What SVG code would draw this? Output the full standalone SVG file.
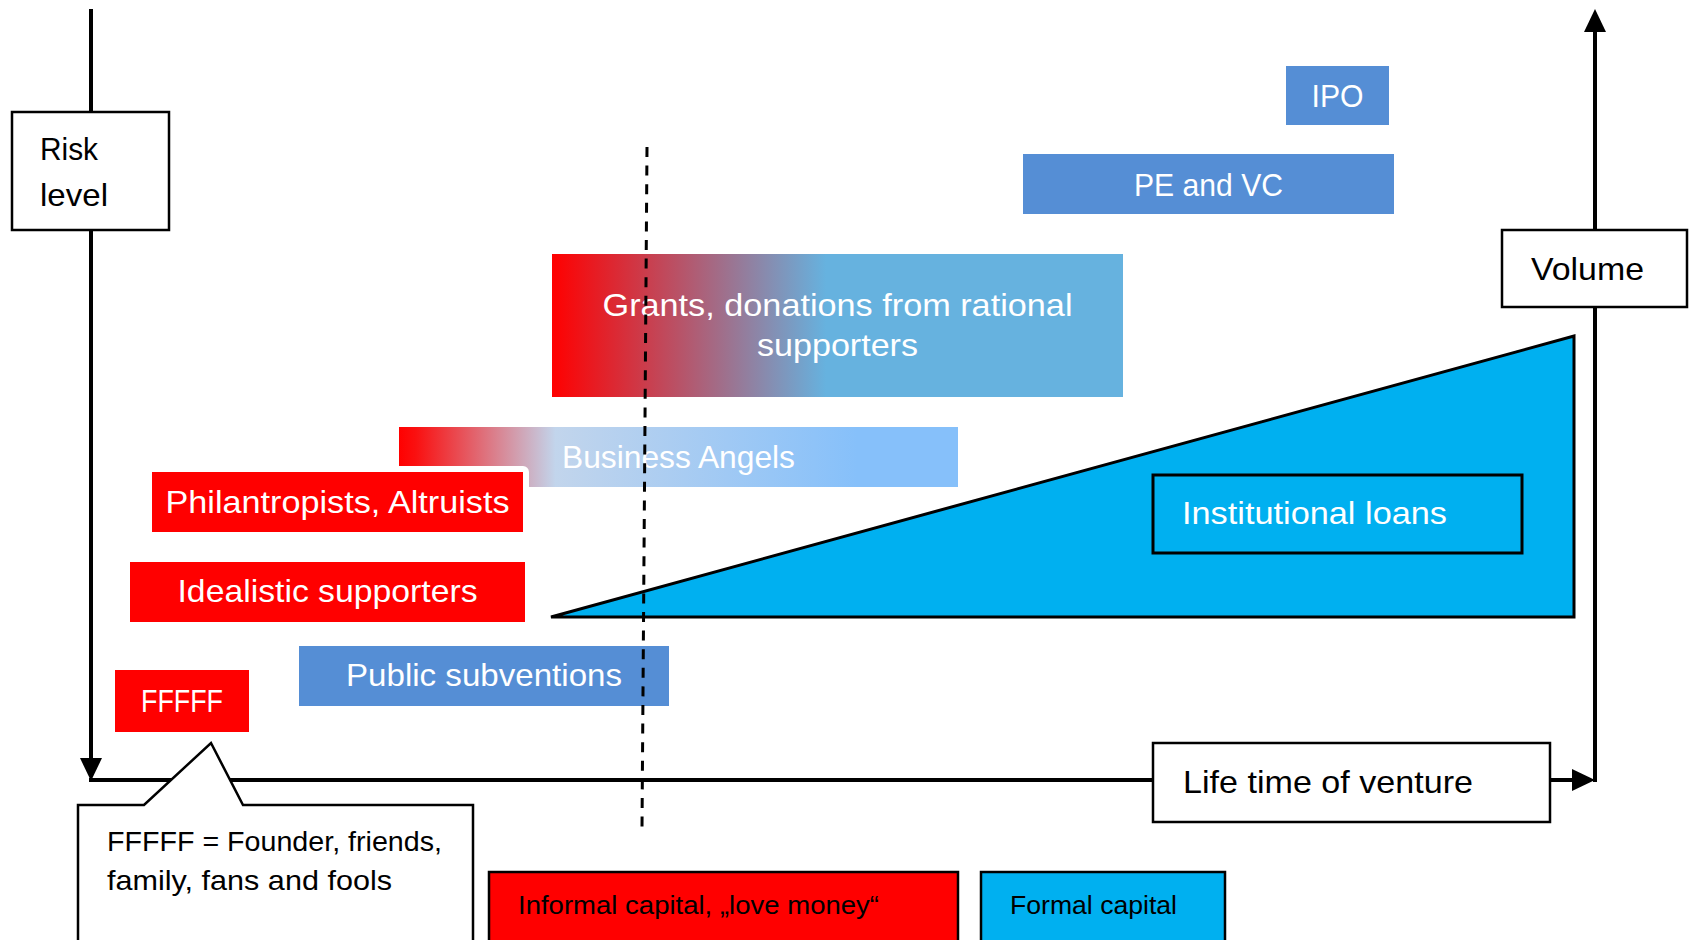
<svg xmlns="http://www.w3.org/2000/svg" width="1690" height="940" viewBox="0 0 1690 940">
  <style>
    .lbl { font-family: "Liberation Sans", Arial, sans-serif; font-size: 32px; fill: #ffffff; }
    .mid { text-anchor: middle; }
    .dark { fill: #000000; }
    .axis { stroke: #000; stroke-width: 4; fill: none; }
    .box { fill: #ffffff; stroke: #000; stroke-width: 2.5; }
    .red { fill: #FF0000; }
    .blue { fill: #558ED5; }
    .cyan { fill: #00B0F0; }
  </style>
  <defs>
    <marker id="arrow" markerUnits="userSpaceOnUse" markerWidth="23" markerHeight="22" refX="0" refY="11" orient="auto" viewBox="0 0 23 22">
      <path d="M0,0 L23,11 L0,22 Z" fill="#000"/>
    </marker>
    <linearGradient id="gGrants" x1="0" y1="0" x2="1" y2="0">
      <stop offset="0" stop-color="#FF0000"/>
      <stop offset="0.48" stop-color="#66B2DF"/>
      <stop offset="1" stop-color="#66B2DF"/>
    </linearGradient>
    <linearGradient id="gAngels" x1="0" y1="0" x2="1" y2="0">
      <stop offset="0" stop-color="#FF0000"/>
      <stop offset="0.03" stop-color="#FA1010"/>
      <stop offset="0.28" stop-color="#C2D5EC"/>
      <stop offset="0.82" stop-color="#86C0FA"/>
      <stop offset="1" stop-color="#86C0FA"/>
    </linearGradient>
  </defs>

  <g id="connectors">
    <line class="axis" x1="91" y1="9" x2="91" y2="758" marker-end="url(#arrow)"/>
    <line class="axis" x1="89" y1="780" x2="1572" y2="780" stroke-width="5" marker-end="url(#arrow)"/>
    <line class="axis" x1="1595" y1="782" x2="1595" y2="32" marker-end="url(#arrow)"/>
  </g>

  <g id="risk-level">
    <rect class="box" x="12" y="112" width="157" height="118"/>
    <text class="lbl dark" x="40" y="160" textLength="58" lengthAdjust="spacingAndGlyphs">Risk</text>
    <text class="lbl dark" x="40" y="206" textLength="68" lengthAdjust="spacingAndGlyphs">level</text>
  </g>

  <g id="volume">
    <rect class="box" x="1502" y="230" width="185" height="77"/>
    <text class="lbl dark" x="1531" y="280" textLength="113" lengthAdjust="spacingAndGlyphs">Volume</text>
  </g>

  <g id="ipo">
    <rect class="blue" x="1286" y="66" width="103" height="59"/>
    <text class="lbl mid" x="1337.5" y="107" textLength="52" lengthAdjust="spacingAndGlyphs">IPO</text>
  </g>

  <g id="pe-vc">
    <rect class="blue" x="1023" y="154" width="371" height="60"/>
    <text class="lbl mid" x="1208.5" y="196" textLength="149" lengthAdjust="spacingAndGlyphs">PE and VC</text>
  </g>

  <g id="grants">
    <rect x="552" y="254" width="571" height="143" fill="url(#gGrants)"/>
    <text class="lbl mid" x="837.5" y="316" textLength="470" lengthAdjust="spacingAndGlyphs">Grants, donations from rational</text>
    <text class="lbl mid" x="837.5" y="356" textLength="161" lengthAdjust="spacingAndGlyphs">supporters</text>
  </g>

  <g id="business-angels">
    <rect x="399" y="427" width="559" height="60" fill="url(#gAngels)"/>
    <text class="lbl mid" x="678.5" y="468" textLength="233" lengthAdjust="spacingAndGlyphs">Business Angels</text>
  </g>

  <g id="philantropists">
    <rect class="red" x="152" y="472" width="371" height="60" stroke="#ffffff" stroke-width="12" stroke-linejoin="round" paint-order="stroke"/>
    <text class="lbl mid" x="337.5" y="513" textLength="344" lengthAdjust="spacingAndGlyphs">Philantropists, Altruists</text>
  </g>

  <g id="idealistic">
    <rect class="red" x="130" y="562" width="395" height="60"/>
    <text class="lbl mid" x="327.5" y="602" textLength="300" lengthAdjust="spacingAndGlyphs">Idealistic supporters</text>
  </g>

  <g id="public-subventions">
    <rect class="blue" x="299" y="646" width="370" height="60"/>
    <text class="lbl mid" x="484" y="686" textLength="276" lengthAdjust="spacingAndGlyphs">Public subventions</text>
  </g>

  <g id="fffff">
    <rect class="red" x="115" y="670" width="134" height="62"/>
    <text class="lbl mid" x="182" y="712" textLength="82" lengthAdjust="spacingAndGlyphs">FFFFF</text>
  </g>

  <g id="institutional-loans">
    <polygon class="cyan" points="551,617 1574,336 1574,617" stroke="#000" stroke-width="3" stroke-linejoin="miter"/>
    <rect x="1153" y="475" width="369" height="78" fill="none" stroke="#000" stroke-width="3"/>
    <text class="lbl" x="1182" y="524" textLength="265" lengthAdjust="spacingAndGlyphs">Institutional loans</text>
  </g>

  <g id="life-time">
    <rect class="box" x="1153" y="743" width="397" height="79" stroke-width="3"/>
    <text class="lbl dark" x="1183" y="793" textLength="290" lengthAdjust="spacingAndGlyphs">Life time of venture</text>
  </g>

  <g id="fffff-note">
    <path class="box" d="M78,805 L144,805 L211,743 L243,805 L473,805 L473,946 L78,946 Z"/>
    <text class="lbl dark" x="107" y="851" style="font-size:28px" textLength="335" lengthAdjust="spacingAndGlyphs">FFFFF = Founder, friends,</text>
    <text class="lbl dark" x="107" y="890" style="font-size:28px" textLength="285" lengthAdjust="spacingAndGlyphs">family, fans and fools</text>
  </g>

  <g id="informal-capital">
    <rect class="red" x="489" y="872" width="469" height="80" stroke="#000" stroke-width="2.5"/>
    <text class="lbl dark" x="518" y="914" style="font-size:26px" textLength="361" lengthAdjust="spacingAndGlyphs">Informal capital, „love money“</text>
  </g>

  <g id="formal-capital">
    <rect class="cyan" x="981" y="872" width="244" height="80" stroke="#000" stroke-width="2.5"/>
    <text class="lbl dark" x="1010" y="914" style="font-size:26px" textLength="167" lengthAdjust="spacingAndGlyphs">Formal capital</text>
  </g>

  <g id="divider">
    <line x1="647" y1="147" x2="642" y2="828" stroke="#000" stroke-width="3" stroke-dasharray="10 8.6"/>
  </g>
</svg>
